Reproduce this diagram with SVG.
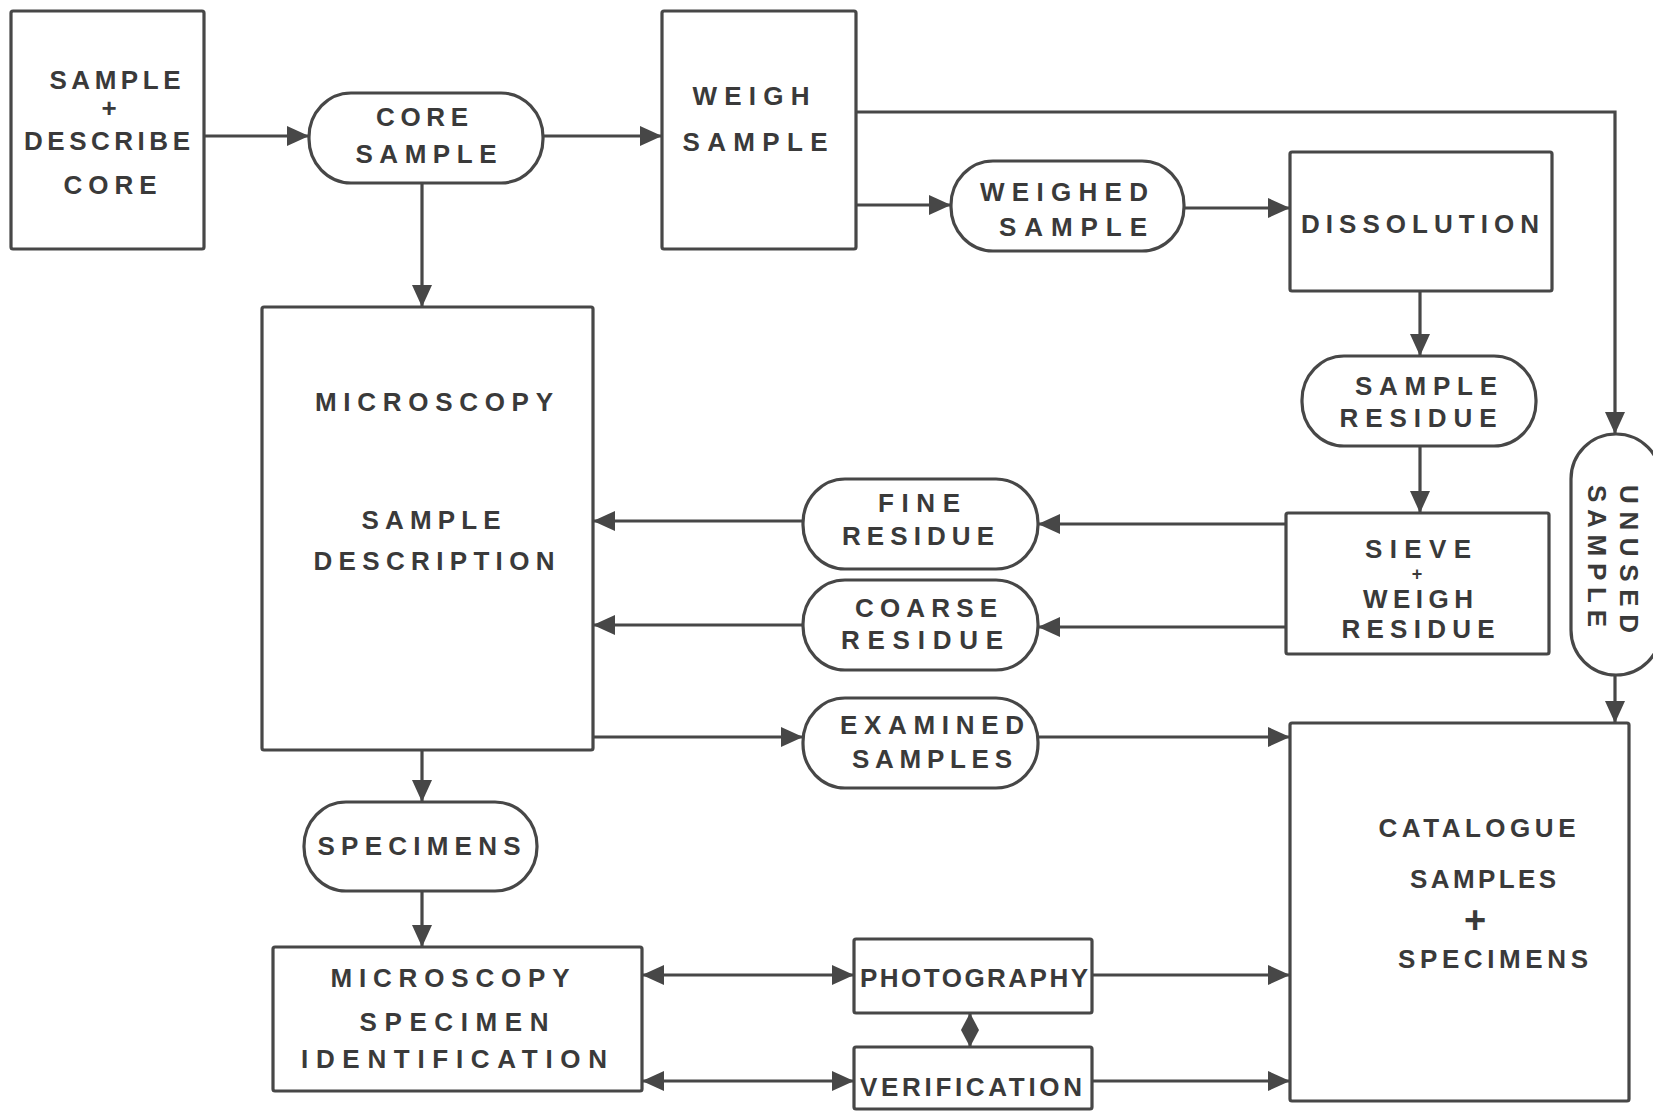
<svg xmlns="http://www.w3.org/2000/svg" width="1653" height="1111" viewBox="0 0 1653 1111">
<style>
.n{fill:#fff;stroke:#474747;stroke-width:3.2}
.c{fill:none;stroke:#474747;stroke-width:3.2}
.t{font-family:"Liberation Sans",Arial,sans-serif;font-weight:bold;font-size:26px;fill:#3a3a3a;text-anchor:middle}
.p{font-family:"Liberation Sans",Arial,sans-serif;font-weight:bold;fill:#3a3a3a;text-anchor:middle}
</style>
<defs>
<marker id="ah" viewBox="0 0 22 20" markerUnits="userSpaceOnUse" markerWidth="22" markerHeight="20" refX="22" refY="10" orient="auto-start-reverse"><path d="M0,0 L22,10 L0,20 z" fill="#474747"/></marker>
<marker id="as" viewBox="0 0 17 18" markerUnits="userSpaceOnUse" markerWidth="17" markerHeight="18" refX="17" refY="9" orient="auto-start-reverse"><path d="M0,0 L17,9 L0,18 z" fill="#474747"/></marker>
</defs>
<rect width="1653" height="1111" fill="#fff"/>
<g id="connectors">
<path class="c" d="M204,136 H309" marker-end="url(#ah)"/>
<path class="c" d="M543,136 H662" marker-end="url(#ah)"/>
<path class="c" d="M422,183 V307" marker-end="url(#ah)"/>
<path class="c" d="M856,112 H1615 V434" marker-end="url(#ah)"/>
<path class="c" d="M856,205 H951" marker-end="url(#ah)"/>
<path class="c" d="M1184,208 H1290" marker-end="url(#ah)"/>
<path class="c" d="M1420,291 V356" marker-end="url(#ah)"/>
<path class="c" d="M1420,446 V513" marker-end="url(#ah)"/>
<path class="c" d="M1286,524 H1038" marker-end="url(#ah)"/>
<path class="c" d="M803,521 H593" marker-end="url(#ah)"/>
<path class="c" d="M1286,627 H1038" marker-end="url(#ah)"/>
<path class="c" d="M803,625 H593" marker-end="url(#ah)"/>
<path class="c" d="M593,737 H803" marker-end="url(#ah)"/>
<path class="c" d="M1038,737 H1290" marker-end="url(#ah)"/>
<path class="c" d="M1615,675 V723" marker-end="url(#ah)"/>
<path class="c" d="M422,750 V802" marker-end="url(#ah)"/>
<path class="c" d="M422,891 V947" marker-end="url(#ah)"/>
<path class="c" d="M642,975 H854" marker-start="url(#ah)" marker-end="url(#ah)"/>
<path class="c" d="M642,1081 H854" marker-start="url(#ah)" marker-end="url(#ah)"/>
<path class="c" d="M1092,975 H1290" marker-end="url(#ah)"/>
<path class="c" d="M1092,1081 H1290" marker-end="url(#ah)"/>
<path class="c" d="M970,1013 V1047" marker-start="url(#as)" marker-end="url(#as)"/>
</g>
<g id="sample-describe-core">
<rect class="n" x="11" y="11" width="193" height="238" rx="2"/>
<text class="t" x="115" y="88.5" textLength="131" lengthAdjust="spacing">SAMPLE</text>
<text class="p" x="109" y="117" font-size="26">+</text>
<text class="t" x="107" y="149.5" textLength="166" lengthAdjust="spacing">DESCRIBE</text>
<text class="t" x="110" y="194" textLength="93" lengthAdjust="spacing">CORE</text>
</g>
<g id="core-sample">
<rect class="n" x="309" y="93" width="234" height="90" rx="42" ry="44"/>
<text class="t" x="422" y="125.5" textLength="92" lengthAdjust="spacing">CORE</text>
<text class="t" x="426" y="162.5" textLength="141" lengthAdjust="spacing">SAMPLE</text>
</g>
<g id="weigh-sample">
<rect class="n" x="662" y="11" width="194" height="238" rx="2"/>
<text class="t" x="751" y="104.5" textLength="117" lengthAdjust="spacing">WEIGH</text>
<text class="t" x="755" y="150.5" textLength="145" lengthAdjust="spacing">SAMPLE</text>
</g>
<g id="weighed-sample">
<rect class="n" x="951" y="161" width="233" height="90" rx="42" ry="44"/>
<text class="t" x="1064" y="200.5" textLength="168" lengthAdjust="spacing">WEIGHED</text>
<text class="t" x="1073" y="236" textLength="148" lengthAdjust="spacing">SAMPLE</text>
</g>
<g id="dissolution">
<rect class="n" x="1290" y="152" width="262" height="139" rx="2"/>
<text class="t" x="1420" y="233" textLength="238" lengthAdjust="spacing">DISSOLUTION</text>
</g>
<g id="sample-residue">
<rect class="n" x="1302" y="356" width="234" height="90" rx="42" ry="44"/>
<text class="t" x="1426" y="394.5" textLength="142" lengthAdjust="spacing">SAMPLE</text>
<text class="t" x="1418" y="427" textLength="157" lengthAdjust="spacing">RESIDUE</text>
</g>
<g id="sieve-weigh-residue">
<rect class="n" x="1286" y="513" width="263" height="141" rx="2"/>
<text class="t" x="1418" y="557.5" textLength="106" lengthAdjust="spacing">SIEVE</text>
<text class="p" x="1417" y="579.5" font-size="18">+</text>
<text class="t" x="1418" y="608" textLength="110" lengthAdjust="spacing">WEIGH</text>
<text class="t" x="1418" y="638" textLength="153" lengthAdjust="spacing">RESIDUE</text>
</g>
<g id="fine-residue">
<rect class="n" x="803" y="479" width="235" height="90" rx="42" ry="44"/>
<text class="t" x="919" y="511.5" textLength="82" lengthAdjust="spacing">FINE</text>
<text class="t" x="918" y="545" textLength="152" lengthAdjust="spacing">RESIDUE</text>
</g>
<g id="coarse-residue">
<rect class="n" x="803" y="580" width="235" height="90" rx="42" ry="44"/>
<text class="t" x="926" y="616.5" textLength="142" lengthAdjust="spacing">COARSE</text>
<text class="t" x="922" y="648.5" textLength="162" lengthAdjust="spacing">RESIDUE</text>
</g>
<g id="microscopy-sample-description">
<rect class="n" x="262" y="307" width="331" height="443" rx="2"/>
<text class="t" x="434" y="411" textLength="238" lengthAdjust="spacing">MICROSCOPY</text>
<text class="t" x="431" y="529" textLength="139" lengthAdjust="spacing">SAMPLE</text>
<text class="t" x="434" y="570" textLength="241" lengthAdjust="spacing">DESCRIPTION</text>
</g>
<g id="examined-samples">
<rect class="n" x="803" y="698" width="235" height="90" rx="42" ry="44"/>
<text class="t" x="932" y="733.5" textLength="184" lengthAdjust="spacing">EXAMINED</text>
<text class="t" x="932" y="767.5" textLength="160" lengthAdjust="spacing">SAMPLES</text>
</g>
<g id="catalogue">
<rect class="n" x="1290" y="723" width="339" height="378" rx="2"/>
<text class="t" x="1477" y="837" textLength="197" lengthAdjust="spacing">CATALOGUE</text>
<text class="t" x="1483" y="887.5" textLength="146" lengthAdjust="spacing">SAMPLES</text>
<text class="p" x="1475" y="933" font-size="38" font-weight="normal">+</text>
<text class="t" x="1493" y="967.5" textLength="190" lengthAdjust="spacing">SPECIMENS</text>
</g>
<g id="unused-sample">
<rect class="n" x="1571" y="434" width="90" height="241" rx="45" ry="45"/>
<text class="t" transform="translate(1619.5,559) rotate(90)" x="0" y="0" textLength="148" lengthAdjust="spacing">UNUSED</text>
<text class="t" transform="translate(1587.5,556) rotate(90)" x="0" y="0" textLength="142" lengthAdjust="spacing">SAMPLE</text>
</g>
<g id="specimens">
<rect class="n" x="304" y="802" width="233" height="89" rx="42" ry="44"/>
<text class="t" x="419" y="855" textLength="203" lengthAdjust="spacing">SPECIMENS</text>
</g>
<g id="microscopy-specimen-identification">
<rect class="n" x="273" y="947" width="369" height="144" rx="2"/>
<text class="t" x="450" y="986.5" textLength="239" lengthAdjust="spacing">MICROSCOPY</text>
<text class="t" x="454" y="1031" textLength="189" lengthAdjust="spacing">SPECIMEN</text>
<text class="t" x="454" y="1068" textLength="306" lengthAdjust="spacing">IDENTIFICATION</text>
</g>
<g id="photography">
<rect class="n" x="854" y="939" width="238" height="74" rx="2"/>
<text class="t" x="974" y="986.5" textLength="228" lengthAdjust="spacing">PHOTOGRAPHY</text>
</g>
<g id="verification">
<rect class="n" x="854" y="1047" width="238" height="62" rx="2"/>
<text class="t" x="971" y="1095.5" textLength="222" lengthAdjust="spacing">VERIFICATION</text>
</g>
</svg>
